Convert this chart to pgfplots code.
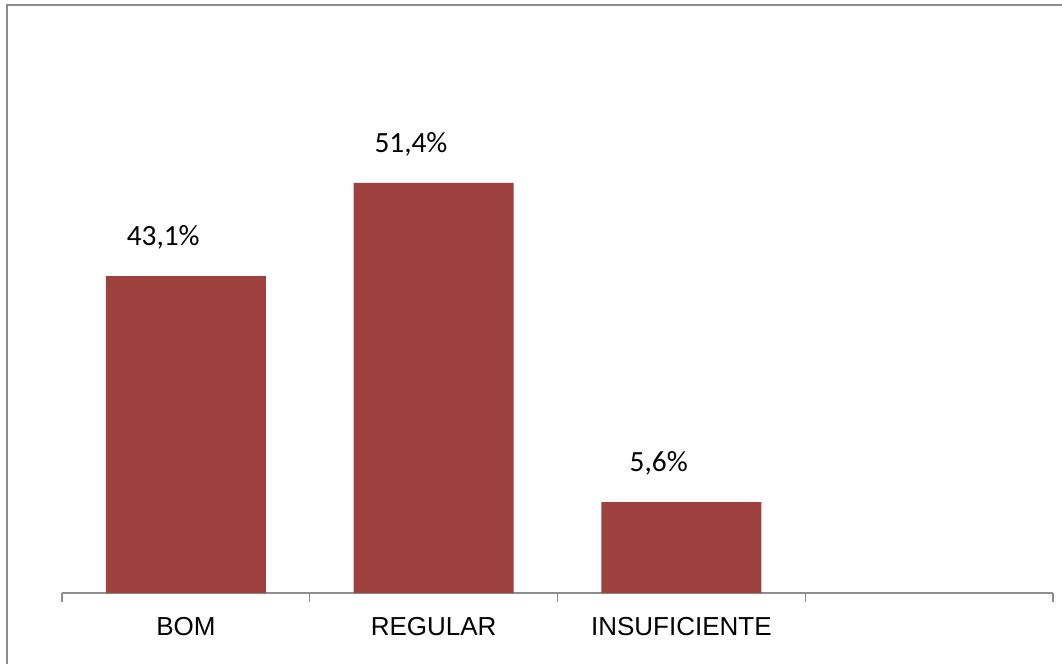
\documentclass[border=0pt]{standalone}
\usepackage{pgfplots}
\pgfplotsset{compat=1.18}
\usepackage{fontspec}
\setmainfont{Liberation Sans}
\newfontfamily\calibri{Carlito}
\definecolor{barred}{RGB}{158,65,62}
\definecolor{framegray}{RGB}{140,140,140}
\definecolor{axisgray}{RGB}{142,142,142}

\begin{document}
\begin{tikzpicture}
  % 1 px of the reference = 0.75pt
  \path[use as bounding box] (0,0) rectangle (796.5pt,498pt);
  \draw[framegray, line width=1.5pt] (5pt,0) -- (5pt,494.5pt) -- (796.5pt,494.5pt);

  \begin{axis}[
    at={(46.5pt,53.25pt)}, anchor=south west,
    scale only axis,
    width=743.25pt, height=429.75pt,
    xmin=-0.5, xmax=3.5,
    ymin=0, ymax=71.8,
    axis x line*=bottom,
    hide y axis,
    x axis line style={axisgray, line width=1.1pt},
    xtick={0,1,2},
    xticklabels={BOM,REGULAR,INSUFICIENTE},
    major tick length=0pt,
    minor xtick={-0.5,0.5,1.5,2.5,3.5},
    minor tick length=6.5pt,
    tick align=outside,
    minor tick style={axisgray, line width=1.1pt},
    xticklabel style={anchor=base, yshift=-31.5pt,
      font=\fontsize{19.5}{23}\selectfont},
    ybar, bar width=120pt,
    point meta=explicit symbolic,
    nodes near coords,
    every node near coord/.append style={anchor=center, xshift=-17pt, yshift=29pt,
      font=\calibri\fontsize{22}{26}\selectfont, text=black},
  ]
    \addplot[fill=barred, draw=none] table[meta=label] {
      x  y     label
      0  39.7  43,1\%
      1  51.4  51,4\%
      2  11.4  5,6\%
    };
  \end{axis}
\end{tikzpicture}
\end{document}
